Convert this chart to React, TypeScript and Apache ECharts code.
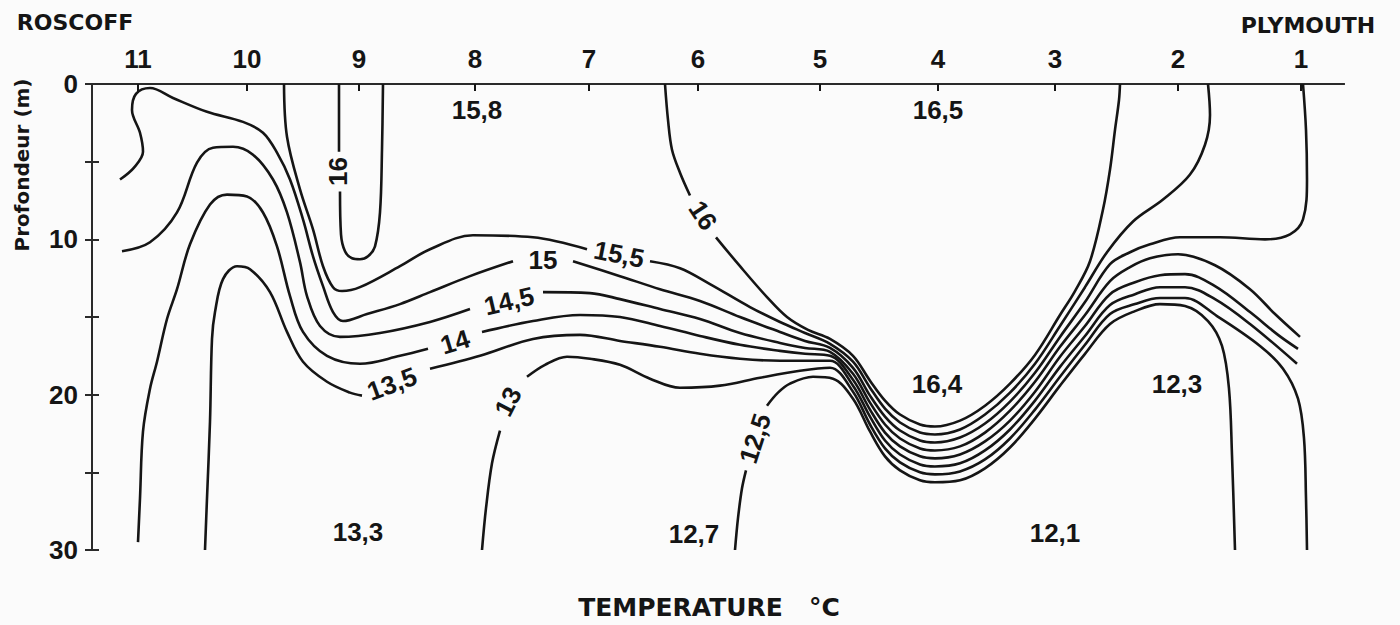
import React, { useEffect, useRef } from 'react';
import * as echarts from 'echarts';

// Stations along the Roscoff – Plymouth section (distance units along the section)
const stationNames = ['11', '10', '9', '8', '7', '6', '5', '4', '3', '2', '1'];
const stationDist = [4.6, 15.5, 26.7, 38.3, 49.7, 60.6, 72.8, 84.6, 96.3, 108.6, 120.9];
const depthTicks = [0, 10, 20, 30];

// Isotherm segments: [distance, depth (m)]; each gap leaves room for its label
const t16TongueTop = [[24.7, 0], [24.7, 2.31], [24.7, 4.36]];
const t16TongueLoop = [[24.8, 6.92], [24.9, 9.68], [25.3, 10.77], [26.0, 11.22], [26.8, 11.28], [27.6, 11.09], [28.3, 10.45], [28.8, 8.27], [29.0, 4.23], [29.1, 0]];

const t16A = [[57.3, 0], [57.6, 2.31], [58.0, 4.23], [58.8, 5.71], [59.8, 7.18]];
const t16B = [[62.4, 9.87], [64.8, 11.73], [67.5, 13.72], [69.5, 15.0], [71.6, 15.83], [73.8, 16.41], [76.1, 17.5], [77.8, 19.1], [79.3, 20.38], [80.8, 21.28], [82.8, 21.92], [84.3, 22.05], [86.8, 21.67], [89.3, 20.71], [91.8, 19.29], [94.3, 17.44], [96.8, 14.87], [98.3, 13.33], [99.8, 11.41], [101.1, 8.08], [101.8, 5.51], [102.3, 2.95], [102.7, 1.03], [102.8, 0]];

const t155A = [[19.2, 0], [19.5, 3.4], [20.8, 6.79], [22.1, 9.36], [23.1, 11.73], [24.1, 13.08], [25.0, 13.33], [26.8, 13.08], [30.8, 11.73], [33.8, 10.64], [38.1, 9.74], [44.1, 9.87], [49.5, 10.64]];
const t155B = [[55.8, 11.41], [58.8, 11.86], [61.8, 12.88], [65.8, 14.36], [68.8, 15.32], [71.3, 16.03], [73.8, 16.73], [76.1, 17.88], [77.8, 19.55], [79.3, 20.9], [80.8, 21.79], [82.8, 22.44], [84.3, 22.56], [86.8, 22.24], [89.3, 21.28], [91.8, 19.87], [94.3, 18.01], [96.8, 15.58], [99.3, 13.08], [101.5, 10.83], [104.1, 8.85], [107.1, 7.44], [109.8, 5.83], [111.3, 3.91], [111.8, 1.99], [111.6, 0]];

const t15A = [[2.8, 6.15], [4.2, 5.38], [5.1, 4.36], [4.8, 3.14], [4.0, 1.67], [4.4, 0.64], [5.8, 0.26], [8.1, 0.9], [11.5, 1.79], [15.1, 2.44], [17.1, 3.14], [18.5, 4.42], [19.8, 6.15], [21.1, 8.72], [22.1, 11.09], [23.1, 13.01], [24.1, 14.68], [25.1, 15.26], [27.5, 14.81], [30.8, 14.17], [33.8, 13.4], [37.8, 12.37], [42.1, 11.41]];
const t15B = [[48.1, 11.41], [52.8, 12.37], [56.8, 13.21], [60.8, 13.97], [64.8, 15.0], [68.8, 15.96], [71.3, 16.54], [73.8, 16.99], [76.1, 18.27], [77.8, 20.06], [79.3, 21.41], [80.8, 22.31], [82.8, 22.95], [84.3, 23.08], [86.8, 22.76], [89.3, 21.86], [91.8, 20.45], [94.3, 18.59], [96.8, 16.28], [99.3, 14.04], [101.8, 11.6], [103.8, 10.83], [105.8, 10.32], [108.8, 9.87], [112.8, 9.87], [117.3, 10.0], [119.8, 9.68], [121.1, 8.72], [121.5, 6.15], [121.4, 2.95], [121.1, 0]];

const t145A = [[3.0, 10.77], [5.8, 10.19], [8.5, 8.27], [10.5, 5.06], [12.1, 4.1], [14.1, 4.04], [16.1, 4.55], [18.1, 6.15], [19.5, 8.27], [20.8, 11.47], [21.5, 13.65], [22.8, 15.58], [24.8, 16.28], [28.8, 16.03], [33.8, 15.32], [37.8, 14.49]];
const t145B = [[45.1, 13.4], [49.8, 13.46], [52.8, 13.85], [56.8, 14.49], [60.8, 15.13], [64.8, 16.03], [68.8, 16.67], [71.3, 16.99], [73.8, 17.24], [76.1, 18.65], [77.8, 20.51], [79.3, 21.92], [80.8, 22.82], [82.8, 23.46], [84.3, 23.59], [86.8, 23.33], [89.3, 22.44], [91.8, 21.03], [94.3, 19.17], [96.8, 16.92], [99.3, 14.87], [101.8, 12.69], [103.8, 11.79], [105.8, 11.22], [108.6, 10.96], [112.3, 11.67], [115.8, 13.21], [118.3, 14.81], [120.8, 16.28]];

const t14A = [[4.6, 29.49], [4.8, 26.67], [5.1, 22.37], [5.8, 19.62], [6.5, 17.88], [7.5, 15.13], [8.5, 13.21], [9.8, 10.32], [11.8, 7.76], [13.5, 7.12], [15.5, 7.24], [17.1, 8.27], [18.5, 10.45], [19.8, 13.65], [21.1, 15.96], [23.5, 17.5], [26.8, 18.01], [30.8, 17.5], [33.6, 17.05]];
const t14B = [[39.0, 15.96], [44.1, 15.26], [48.8, 14.87], [52.8, 15.0], [56.8, 15.58], [60.8, 16.22], [64.8, 16.79], [68.8, 17.18], [71.3, 17.37], [73.8, 17.5], [76.1, 19.04], [77.8, 20.96], [79.3, 22.44], [80.8, 23.33], [82.8, 23.97], [84.3, 24.1], [86.8, 23.85], [89.3, 23.01], [91.8, 21.67], [94.3, 19.81], [96.8, 17.56], [99.3, 15.58], [101.8, 13.53], [104.3, 12.76], [106.8, 12.31], [109.3, 12.24], [112.3, 13.01], [115.8, 14.68], [118.6, 16.15], [120.6, 17.05]];

const t135A = [[11.3, 30], [11.5, 26.67], [11.8, 21.73], [12.0, 16.41], [12.3, 14.68], [13.1, 12.56], [14.5, 11.73], [15.8, 11.92], [17.8, 13.4], [19.5, 15.96], [21.1, 17.88], [23.5, 19.17], [25.8, 19.87], [27.0, 20.06]];
const t135B = [[33.8, 18.33], [38.8, 17.5], [44.1, 16.41], [48.8, 16.15], [52.8, 16.54], [56.8, 16.92], [60.8, 17.37], [64.8, 17.69], [68.8, 17.82], [71.3, 17.82], [73.8, 17.82], [76.1, 19.42], [77.8, 21.41], [79.3, 22.95], [80.8, 23.85], [82.8, 24.49], [84.3, 24.62], [86.8, 24.42], [89.3, 23.59], [91.8, 22.24], [94.3, 20.38], [96.8, 18.21], [99.3, 16.22], [101.8, 14.23], [104.3, 13.53], [106.8, 13.08], [109.3, 13.08], [112.3, 13.85], [115.8, 15.45], [120.5, 18.01]];

const t13A = [[39.0, 30], [39.4, 27.31], [40.0, 24.42], [40.8, 22.31]];
const t13B = [[43.5, 18.85], [45.3, 18.08], [47.5, 17.56], [49.8, 17.69], [52.8, 18.08], [55.8, 18.97], [58.8, 19.55], [62.8, 19.42], [66.8, 18.91], [70.8, 18.46], [73.8, 18.27], [76.1, 19.81], [77.8, 21.92], [79.3, 23.46], [80.8, 24.36], [82.8, 25.0], [84.3, 25.13], [86.8, 24.94], [89.3, 24.17], [91.8, 22.82], [94.3, 20.96], [96.8, 18.85], [99.3, 16.79], [101.8, 14.81], [104.3, 14.17], [106.8, 13.78], [109.3, 13.78], [112.5, 14.94], [116.8, 16.86], [119.1, 18.33], [120.6, 20.26], [121.2, 22.82], [121.4, 26.67], [121.5, 30]];

const t125A = [[64.3, 30], [64.6, 27.95], [65.0, 26.03], [65.4, 24.87]];
const t125B = [[67.5, 20.71], [68.6, 19.87], [69.8, 19.29], [72.1, 18.85], [74.1, 18.97], [76.1, 20.26], [77.8, 22.37], [79.3, 23.97], [80.8, 24.87], [82.8, 25.51], [84.3, 25.64], [86.8, 25.51], [89.3, 24.74], [91.8, 23.4], [94.3, 21.54], [96.8, 19.42], [99.3, 17.37], [101.8, 15.45], [104.3, 14.62], [106.8, 14.17], [109.3, 14.29], [111.6, 15.26], [113.0, 16.86], [113.7, 19.62], [114.0, 23.91], [114.3, 30]];

// Isotherm values (°C) with their segments, label anchors and label angles
const isoTemps = [16, 16, 15.5, 15, 14.5, 14, 13.5, 13, 12.5];
const isoSegments = [
  [t16TongueTop, t16TongueLoop],
  [t16A, t16B],
  [t155A, t155B],
  [t15A, t15B],
  [t145A, t145B],
  [t14A, t14B],
  [t135A, t135B],
  [t13A, t13B],
  [t125A, t125B],
];
const isoLabelAt = [[24.6, 5.64], [61.1, 8.46], [52.7, 10.96], [45.1, 11.35], [41.7, 13.97], [36.3, 16.6], [30.0, 19.3], [41.6, 20.45], [66.3, 22.82]];
const isoLabelAngle = [90, -57, -11, 0, 13, 17, 20, 63, 72];

// Temperatures noted inside the water masses
const fieldValues = ['15,8', '16,5', '16,4', '12,3', '13,3', '12,7', '12,1'];
const fieldAt = [[38.5, 1.67], [84.6, 1.67], [84.5, 19.29], [108.5, 19.29], [26.6, 28.85], [60.2, 28.97], [96.3, 28.91]];

const INK = '#151515';
const NUM_FONT = '"Liberation Sans", Arial, sans-serif';
const WORD_FONT = '"DejaVu Sans", sans-serif';
const fmt = (t: number) => String(t).replace('.', ',');

function buildOption() {
  const lineSeries = isoSegments.flatMap((segs, i) =>
    segs.map((seg) => ({
      type: 'line',
      name: fmt(isoTemps[i]),
      data: seg,
      smooth: 0.35,
      symbol: 'none',
      silent: true,
      clip: false,
      lineStyle: { color: INK, width: 2.6 },
      z: 2,
    }))
  );

  const textStyle = {
    show: true,
    position: 'inside',
    formatter: '{b}',
    fontFamily: NUM_FONT,
    fontWeight: 'bold',
    fontSize: 26,
    color: INK,
    opacity: 1,
    textBorderWidth: 0,
  };

  const isoLabelSeries = {
    type: 'scatter',
    silent: true,
    symbolSize: 1,
    itemStyle: { color: 'rgba(0,0,0,0)', opacity: 1 },
    label: textStyle,
    data: isoTemps.map((t, i) => ({
      name: fmt(t),
      value: isoLabelAt[i],
      label: { rotate: isoLabelAngle[i] },
    })),
    z: 3,
  };

  const fieldSeries = {
    type: 'scatter',
    silent: true,
    symbolSize: 1,
    itemStyle: { color: 'rgba(0,0,0,0)', opacity: 1 },
    label: textStyle,
    data: fieldValues.map((v, i) => ({ name: v, value: fieldAt[i] })),
    z: 3,
  };

  const stationSeries = {
    type: 'scatter',
    silent: true,
    xAxisIndex: 0,
    symbol: 'rect',
    symbolSize: [2, 7],
    symbolOffset: [0, 3.5],
    itemStyle: { color: INK, opacity: 1 },
    clip: false,
    label: {
      show: true,
      position: 'top',
      distance: 12,
      formatter: '{b}',
      fontFamily: NUM_FONT,
      fontWeight: 'bold',
      fontSize: 26,
      color: INK,
      opacity: 1,
      textBorderWidth: 0,
    },
    data: stationNames.map((n, i) => ({ name: n, value: [stationDist[i], 0] })),
    z: 4,
  };

  const yBase = {
    type: 'value',
    min: 0,
    max: 30,
    interval: 5,
    inverse: true,
    splitLine: { show: false },
    axisLine: { show: true, lineStyle: { color: '#2a2a2a', width: 2 } },
    axisTick: { show: true, inside: true, length: 7, lineStyle: { color: '#2a2a2a', width: 2 } },
  };

  return {
    animation: false,
    backgroundColor: '#fbfbfb',
    grid: { left: 92, right: 56, top: 84, bottom: 73, containLabel: false },
    xAxis: [
      {
        type: 'value',
        position: 'bottom',
        min: 0,
        max: 125.2,
        splitLine: { show: false },
        axisTick: { show: false },
        axisLabel: { show: false },
        axisLine: { show: true, lineStyle: { color: '#2a2a2a', width: 2 } },
        name: 'TEMPERATURE   °C',
        nameLocation: 'middle',
        nameGap: 45,
        nameTextStyle: {
          fontFamily: WORD_FONT,
          fontWeight: 'bold',
          fontSize: 25,
          color: INK,
          padding: [0, 18, 0, 0],
        },
      },
      {
        type: 'value',
        position: 'top',
        min: 0,
        max: 125.2,
        splitLine: { show: false },
        axisTick: { show: false },
        axisLabel: { show: false },
        axisLine: { show: true, lineStyle: { color: '#2a2a2a', width: 2 } },
      },
    ],
    yAxis: [
      {
        ...yBase,
        position: 'left',
        axisLabel: {
          show: true,
          margin: 14,
          showMinLabel: true,
          showMaxLabel: true,
          fontFamily: NUM_FONT,
          fontWeight: 'bold',
          fontSize: 26,
          color: INK,
          formatter: (v: number) => (depthTicks.includes(v) ? String(v) : ''),
        },
      },
      { ...yBase, position: 'right', axisLabel: { show: false } },
    ],
    graphic: [
      {
        type: 'text',
        x: 75,
        y: 22,
        style: {
          text: 'ROSCOFF',
          fontFamily: WORD_FONT,
          fontWeight: 'bold',
          fontSize: 22,
          fill: INK,
          textAlign: 'center',
          textVerticalAlign: 'middle',
        },
      },
      {
        type: 'text',
        x: 1308,
        y: 25,
        style: {
          text: 'PLYMOUTH',
          fontFamily: WORD_FONT,
          fontWeight: 'bold',
          fontSize: 22,
          fill: INK,
          textAlign: 'center',
          textVerticalAlign: 'middle',
        },
      },
      {
        type: 'text',
        x: 22,
        y: 165,
        rotation: Math.PI / 2,
        style: {
          text: 'Profondeur (m)',
          fontFamily: WORD_FONT,
          fontWeight: 'bold',
          fontSize: 20,
          fill: INK,
          textAlign: 'center',
          textVerticalAlign: 'middle',
        },
      },
    ],
    series: [...lineSeries, isoLabelSeries, fieldSeries, stationSeries],
  };
}

export default function App() {
  const ref = useRef<HTMLDivElement>(null);
  useEffect(() => {
    if (!ref.current) return;
    const chart = echarts.init(ref.current, undefined, { renderer: 'svg' });
    chart.setOption(buildOption() as any);
    return () => chart.dispose();
  }, []);
  return (
    <div
      ref={ref}
      style={{ position: 'absolute', left: 0, top: 0, width: 1400, height: 625, background: '#fbfbfb' }}
    />
  );
}
